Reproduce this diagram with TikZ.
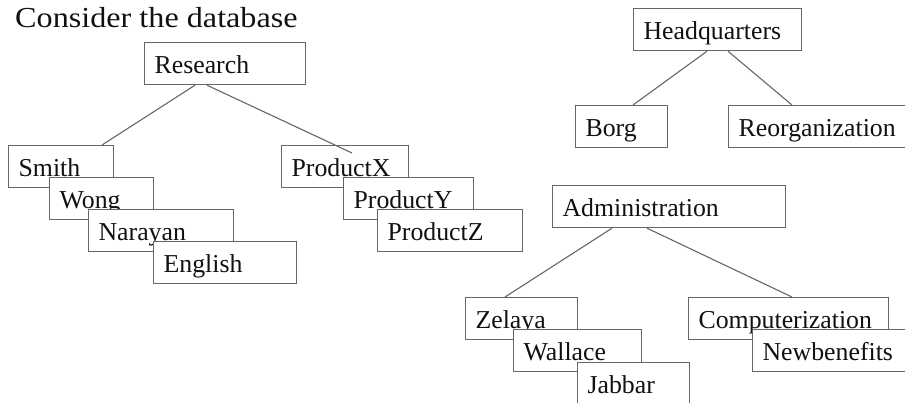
\documentclass[tikz,border=0pt]{standalone}
\usepackage{fontspec}
\usepackage{graphicx}
\setmainfont{Liberation Serif}
\definecolor{edgegray}{HTML}{666666}
\definecolor{inkdark}{HTML}{111111}
\tikzset{
  deptbox/.style={draw=edgegray, line width=1.2pt, fill=white, text=inkdark,
    anchor=north west, inner xsep=10pt, inner ysep=0pt,
    text height=31pt, text depth=11pt, align=left,
    font=\fontsize{25.8}{26}\selectfont},
  link/.style={draw=edgegray, line width=1.1pt}
}
% box with top-left corner (x,y) and width w, all in pixels
\newcommand{\deptnode}[5]{%
  \pgfmathsetmacro{\tw}{#4-20}%
  \node[deptbox, text width=\tw pt] (#1) at (#2,#3) {#5};}
\begin{document}
\begin{tikzpicture}[x=1pt, y=-1pt]
\useasboundingbox (0,0) rectangle (905,402);
\clip (0,0) rectangle (905,402);

\node[anchor=base west, inner sep=0pt, text=inkdark,
      font=\fontsize{29}{30}\selectfont] (title) at (15,27)
  {\scalebox{1.11}[1]{Consider the database}};

% Research project
\deptnode{research}{144}{42}{161}{Research}
\deptnode{smith}{8}{145}{105}{Smith}
\deptnode{wong}{49}{177}{104}{Wong}
\deptnode{narayan}{88}{209}{145}{Narayan}
\deptnode{english}{153}{241}{143}{English}
\deptnode{prodx}{281}{145}{127}{ProductX}
\deptnode{prody}{343}{177}{130}{ProductY}
\deptnode{prodz}{377}{209}{145}{ProductZ}

% Headquarters project
\deptnode{hq}{633}{8}{168}{Headquarters}
\deptnode{borg}{575}{105}{92}{Borg}
\deptnode{reorg}{728}{105}{190}{Reorganization}

% Administration project
\deptnode{admin}{552}{185}{233}{Administration}
\deptnode{zelaya}{465}{297}{112}{Zelaya}
\deptnode{wallace}{513}{329}{128}{Wallace}
\deptnode{jabbar}{577}{362}{112}{Jabbar}
\deptnode{comp}{688}{297}{200}{Computerization}
\deptnode{newben}{752}{329}{165}{Newbenefits}

\coordinate (prodxend) at (352,153);

% tree links
\draw[link] ([xshift=51pt]research.south west) -- ([xshift=94pt]smith.north west);
\draw[link] ([xshift=63pt]research.south west) -- (prodxend);
\draw[link] ([xshift=74pt]hq.south west) -- ([xshift=58pt]borg.north west);
\draw[link] ([xshift=95pt]hq.south west) -- ([xshift=64pt]reorg.north west);
\draw[link] ([xshift=60pt]admin.south west) -- ([xshift=40pt]zelaya.north west);
\draw[link] ([xshift=95pt]admin.south west) -- ([xshift=104pt]comp.north west);
\end{tikzpicture}
\end{document}
